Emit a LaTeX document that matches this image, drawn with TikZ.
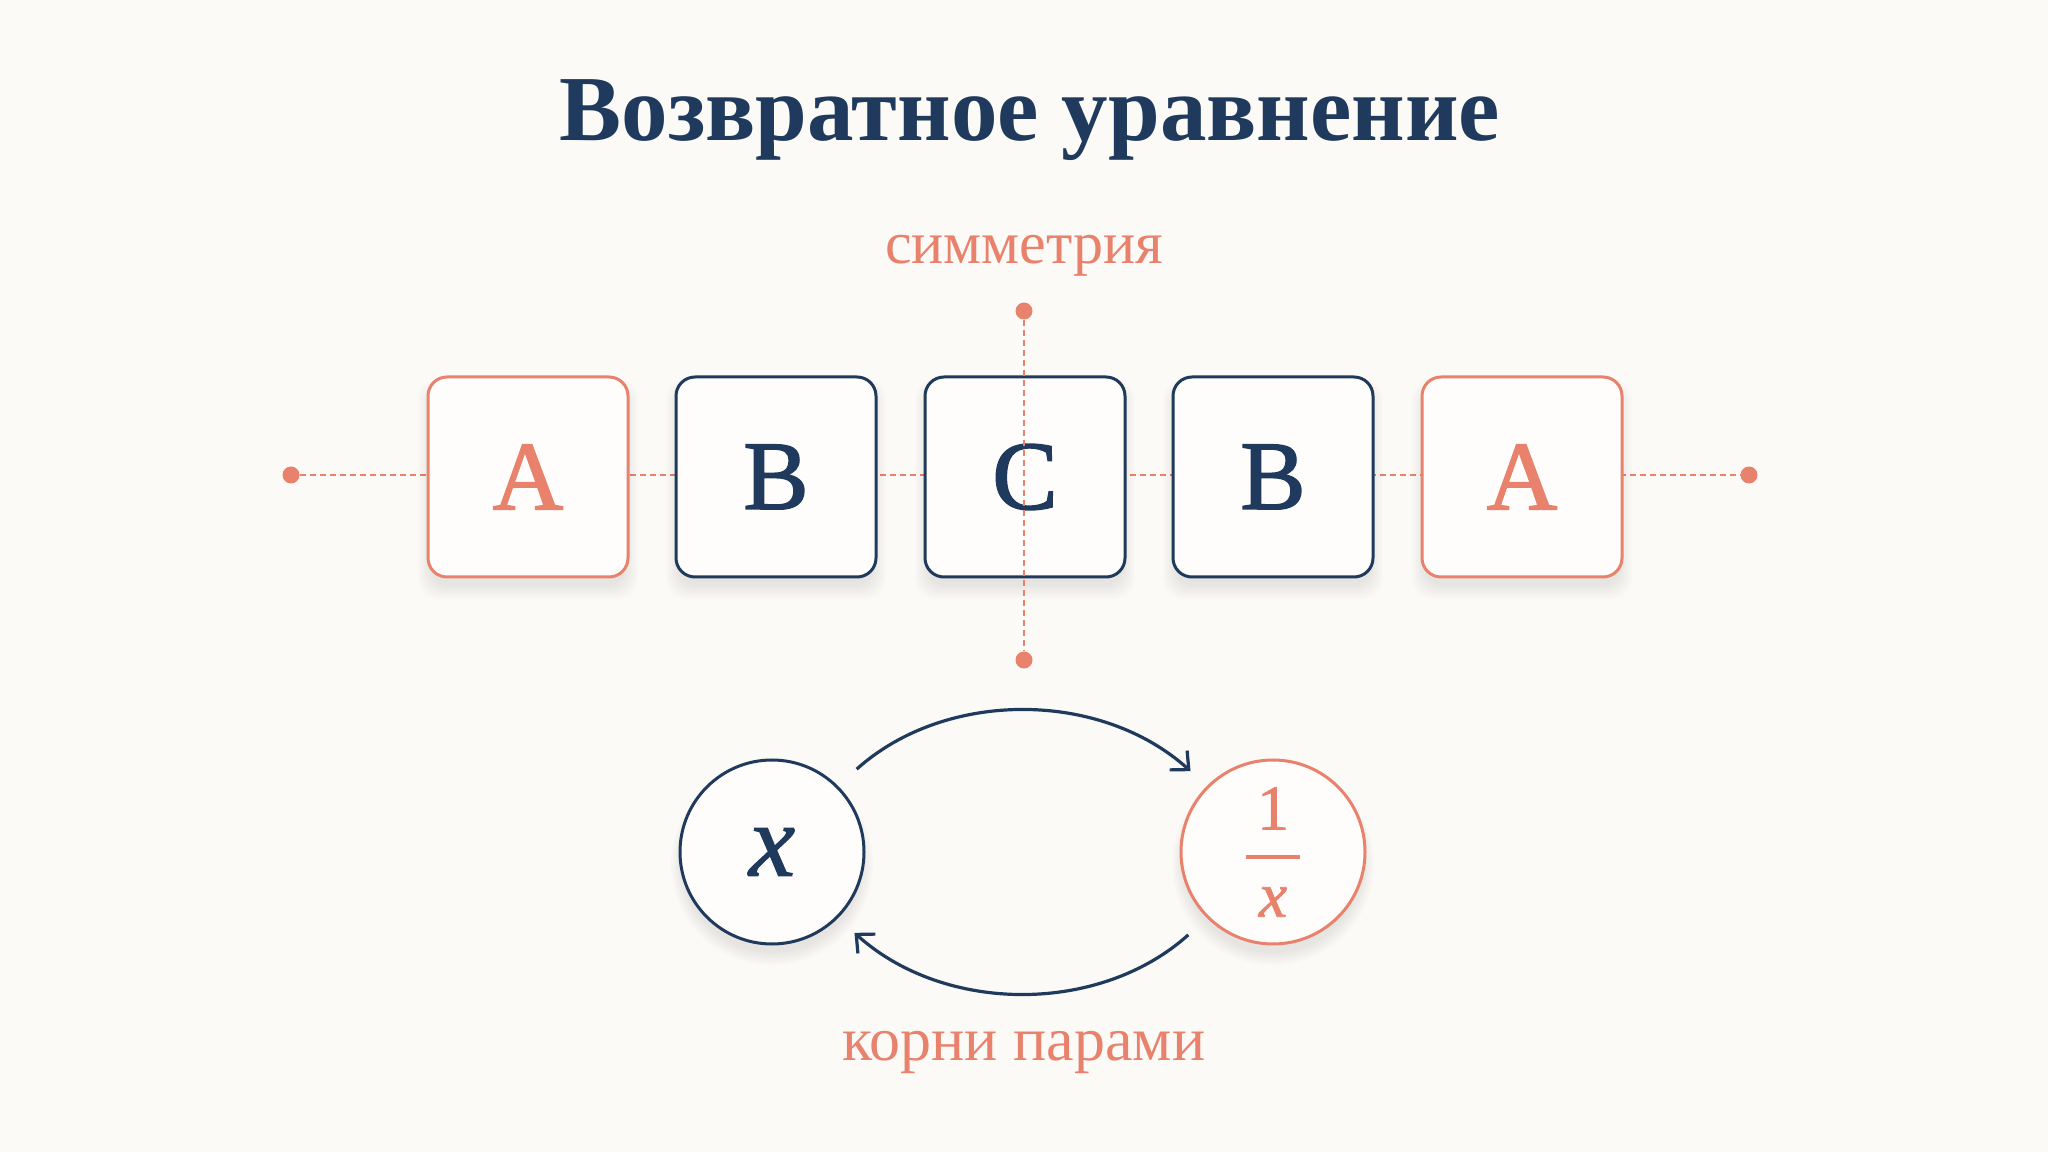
\RequirePackage{fix-cm}
\documentclass[tikz,border=0pt]{standalone}
\usepackage{fontspec}
\setmainfont{Liberation Serif}
\newfontfamily\tilefont[FakeBold=1.6]{Liberation Serif}
\newfontfamily\varfont[FakeBold=1.2]{Liberation Serif}
\usetikzlibrary{arrows.meta,shadows}
\definecolor{navy}{HTML}{1F3A5C}
\definecolor{coral}{HTML}{E9826C}
\definecolor{bg}{HTML}{FBFAF7}
\definecolor{boxfill}{HTML}{FEFDFC}
\tikzset{
  sl/.style={general shadow={shadow xshift=0pt, shadow yshift=-11pt, shadow scale=#1, fill=black, fill opacity=0.013, draw=none}},
  softshadow/.style={sl=1.10, sl=1.08, sl=1.06, sl=1.04, sl=1.02, sl=1.0, sl=0.98},
  tile/.style={draw=#1, text=#1, rounded corners=19pt, minimum width=200pt, minimum height=200pt, line width=3pt, fill=boxfill, softshadow, inner sep=0pt, font=\tilefont\fontsize{98}{98}\selectfont},
  bubble/.style={draw=#1, text=#1, circle, minimum size=184pt, line width=3pt, fill=boxfill, softshadow, inner sep=0pt},
  dotline/.style={coral, line width=2.3pt, dash pattern=on 6pt off 4pt},
  enddot/.style={circle, fill=coral, minimum size=17pt, inner sep=0pt},
  swap/.style={navy, line width=3.2pt, -{Straight Barb[length=14pt,width=26pt]}, shorten <=25pt, shorten >=22pt},
  label/.style={text=coral, anchor=base}
}
\begin{document}
\begin{tikzpicture}[x=1pt,y=1pt]
\fill[bg] (0,0) rectangle (2048,1152);
\useasboundingbox (0,0) rectangle (2048,1152);

% title
\node[text=navy, anchor=base, font=\bfseries\fontsize{93}{93}\selectfont] (title) at (1030,1011) {Возвратное уравнение};

% symmetry label
\node[label, font=\fontsize{60}{60}\selectfont] (sym) at (1024,888) {симметрия};

% horizontal axis
\node[enddot] (L) at (291,677) {};
\node[enddot] (R) at (1749,677) {};
\draw[dotline] (L) -- (R);

% tiles
\node[tile=coral] (a1) at (528,675) {A};
\node[tile=navy]  (b1) at (776,675) {B};
\node[tile=navy]  (c)  at (1025,675) {C};
\node[tile=navy]  (b2) at (1273,675) {B};
\node[tile=coral] (a2) at (1522,675) {A};

% vertical axis
\node[enddot] (T) at (1024,841) {};
\node[enddot] (B) at (1024,492) {};
\draw[dotline] (T) -- (B);

% roots
\node[bubble=navy, font=\varfont\itshape\fontsize{104}{104}\selectfont] (x) at (772,300) {x};
\node[bubble=coral, font=\fontsize{64}{64}\selectfont] (inv) at (1273,300) {$\displaystyle{\hbox{\varfont\,1\,} \above 3.4pt \hbox{\varfont\itshape\,x\,}}$};

\draw[swap] (x.north east) to[bend left=42] (inv.north west);
\draw[swap] (inv.south west) to[bend left=42] (x.south east);

\node[label, font=\fontsize{62}{62}\selectfont] (pairs) at (1024,92) {корни парами};
\end{tikzpicture}
\end{document}
